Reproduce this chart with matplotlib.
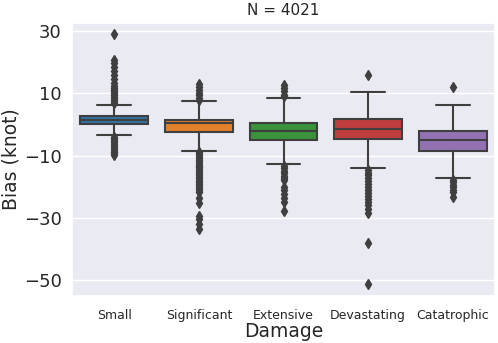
import matplotlib
matplotlib.use("Agg")
import matplotlib.pyplot as plt
import seaborn as sns

categories = ["Small", "Significant", "Extensive", "Devastating", "Catatrophic"]
medians = [1.4, 0.5, -2.1, -1.3, -5.0]
q1 = [0.1, -2.5, -5.0, -4.8, -8.5]
q3 = [2.6, 1.4, 0.5, 1.7, -2.0]
whisker_low = [-3.4, -8.5, -12.6, -14.1, -17.3]
whisker_high = [6.1, 7.5, 8.4, 10.3, 6.2]
fliers = [
    [29.0, 20.7, 19.6, 18.5, 17.3, 16.0, 14.6, 13.2, 12.5, 11.8, 11.2, 10.6,
     10.0, 9.4, 8.8, 8.2, 7.6, 7.0, -3.9, -4.5, -5.1, -5.7, -6.3, -6.9,
     -7.5, -8.1, -8.7, -9.3, -9.8],
    [13.0, 12.0, 11.0, 10.2, 9.4, 8.6, 8.0,
     -9.0, -9.6, -10.2, -10.8, -11.4, -12.0, -12.6, -13.2, -13.8, -14.4,
     -15.0, -15.6, -16.2, -16.8, -17.4, -18.0, -18.6, -19.2, -19.8, -20.4,
     -21.0, -21.8, -23.7, -25.2, -29.3, -30.5, -32.0, -33.6],
    [12.6, 11.6, 10.6, 9.6, 9.0, -13.2, -14.0, -14.8, -15.6, -16.4, -17.2,
     -17.9, -20.2, -21.2, -22.4, -23.6, -24.8, -27.8],
    [15.9, -14.7, -15.5, -16.3, -17.1, -18.0, -19.0, -20.0, -21.0, -22.0,
     -23.0, -24.0, -25.0, -26.0, -27.0, -28.5, -38.0, -51.3],
    [12.0, -17.9, -18.6, -19.4, -20.2, -21.0, -21.8, -23.3],
]
title_text = "N = 4021"
yticks = [30, 10, -10, -30, -50]

sns.set_theme(style="darkgrid")
palette = ["#3274a1", "#e1812c", "#3a923a", "#c03d3e", "#9372b2"]
line_color = "#3f3f3f"

fig = plt.figure(figsize=(4.98, 3.43), dpi=100)
ax = fig.add_axes([72 / 498, 47 / 343, 423 / 498, 273 / 343])

stats = []
for i, name in enumerate(categories):
    stats.append(dict(label=name, med=medians[i], q1=q1[i], q3=q3[i],
                      whislo=whisker_low[i], whishi=whisker_high[i],
                      fliers=fliers[i]))

lw = 1.5
bp = ax.bxp(stats, positions=range(len(categories)), widths=0.8,
            patch_artist=True, showfliers=True, capwidths=0.4,
            boxprops=dict(edgecolor=line_color, linewidth=lw),
            medianprops=dict(color=line_color, linewidth=lw),
            whiskerprops=dict(color=line_color, linewidth=lw),
            capprops=dict(color=line_color, linewidth=lw),
            flierprops=dict(marker="d", markerfacecolor=line_color,
                            markeredgecolor=line_color, markersize=5,
                            linestyle="none"))
for patch, c in zip(bp["boxes"], palette):
    patch.set_facecolor(c)

ax.set_xlim(-0.5, len(categories) - 0.5)
ax.set_ylim(-55.1, 32.6)
ax.set_yticks(yticks)
ax.set_xticks(range(len(categories)))
ax.set_xticklabels(categories, fontsize=9)
ax.xaxis.grid(False)
ax.tick_params(axis="y", labelsize=13, pad=1.5)
ax.tick_params(axis="x", pad=3.5)
ax.set_xlabel("Damage", fontsize=13.5, labelpad=0)
ax.set_ylabel("Bias (knot)", fontsize=13.5, labelpad=2)
ax.set_title(title_text, fontsize=11, pad=6)

fig.savefig("out.png", dpi=100)
